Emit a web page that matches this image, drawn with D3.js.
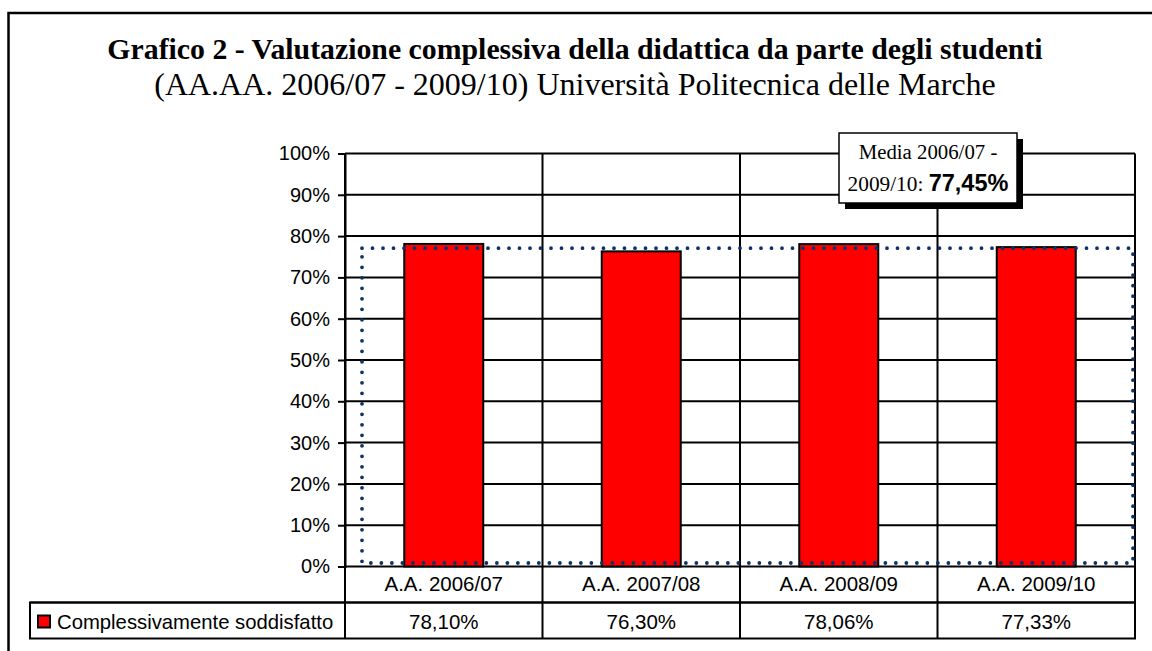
<!DOCTYPE html>
<html>
<head>
<meta charset="utf-8">
<script src="https://cdn.jsdelivr.net/npm/d3@7"></script>
<style>
  body { margin: 0; background: #fff; }
  svg { display: block; }
</style>
</head>
<body>
<svg id="chart" width="1152" height="651"></svg>
<script>
// dati
const categories = ["A.A. 2006/07", "A.A. 2007/08", "A.A. 2008/09", "A.A. 2009/10"];
const values = [0.7810, 0.7630, 0.7806, 0.7733];
const valueLabels = ["78,10%", "76,30%", "78,06%", "77,33%"];
const yTicks = [0, 0.1, 0.2, 0.3, 0.4, 0.5, 0.6, 0.7, 0.8, 0.9, 1];
const seriesName = "Complessivamente soddisfatto";
const media = 0.7745;
const mediaLabel = "77,45%";

const svg = d3.select("#chart");
const pLeft = 345, pRight = 1135, pTop = 153.5, pBottom = 566.5;
const rowH = 36;
const serif = "'Liberation Serif', 'Times New Roman', serif";
const tFont = "'Liberation Sans', Arial, sans-serif";

const x = d3.scaleBand().domain(categories).range([pLeft, pRight]);
const y = d3.scaleLinear().domain([0, 1]).range([pBottom, pTop]);

// cornice esterna
svg.append("rect")
   .attr("x", 8.5).attr("y", 13)
   .attr("width", 1200).attr("height", 700)
   .attr("fill", "none").attr("stroke", "#000").attr("stroke-width", 2.5);

// titolo
svg.append("text")
   .attr("x", 575).attr("y", 59)
   .attr("text-anchor", "middle")
   .style("font-family", serif)
   .style("font-weight", "bold").style("font-size", "29.8px")
   .text("Grafico 2 - Valutazione complessiva della didattica da parte degli studenti");
svg.append("text")
   .attr("x", 575).attr("y", 95)
   .attr("text-anchor", "middle")
   .style("font-family", serif)
   .style("font-size", "32px")
   .text("(AA.AA. 2006/07 - 2009/10) Università Politecnica delle Marche");

// griglia orizzontale
svg.append("g").selectAll("line")
   .data(yTicks)
   .enter().append("line")
   .attr("x1", pLeft).attr("x2", pRight)
   .attr("y1", d => y(d)).attr("y2", d => y(d))
   .attr("stroke", "#000").attr("stroke-width", 2);

// linee verticali tra le categorie (anche nella tabella)
const bounds = categories.map(c => x(c)).concat([pRight]);
svg.append("g").selectAll("line")
   .data(bounds)
   .enter().append("line")
   .attr("x1", d => d).attr("x2", d => d)
   .attr("y1", pTop).attr("y2", pBottom + 2 * rowH)
   .attr("stroke", "#000").attr("stroke-width", 2);

// asse y
const yAxis = d3.axisLeft(y).tickValues(yTicks)
   .tickFormat(d => Math.round(d * 100) + "%")
   .tickSize(7).tickPadding(8);
const ga = svg.append("g").attr("transform", `translate(${pLeft},0)`).call(yAxis);
ga.select(".domain").attr("stroke", "#000").attr("stroke-width", 2);
ga.selectAll(".tick line").attr("stroke", "#000").attr("stroke-width", 2);
ga.selectAll(".tick text")
   .attr("fill", "#000")
   .style("font-family", tFont)
   .style("font-size", "20px");

// barre
svg.append("g").selectAll("rect")
   .data(values)
   .enter().append("rect")
   .attr("x", (d, i) => x(categories[i]) + x.bandwidth() * 0.3)
   .attr("width", x.bandwidth() * 0.4)
   .attr("y", d => y(d))
   .attr("height", d => y(0) - y(d))
   .attr("fill", "#ff0000").attr("stroke", "#000").attr("stroke-width", 2);

// rettangolo tratteggiato della media
svg.append("rect")
   .attr("x", pLeft + 17).attr("y", y(media) + 1.5)
   .attr("width", pRight - 2 - (pLeft + 17))
   .attr("height", y(0) - 3.5 - (y(media) + 1.5))
   .attr("fill", "none").attr("stroke", "#0d3366")
   .attr("stroke-width", 3.8).attr("stroke-linecap", "round")
   .attr("stroke-dasharray", "0 10.5");

// tabella dati
svg.append("line")
   .attr("x1", 30).attr("x2", pRight)
   .attr("y1", pBottom + rowH).attr("y2", pBottom + rowH)
   .attr("stroke", "#000").attr("stroke-width", 2);
svg.append("rect")
   .attr("x", 30).attr("y", pBottom + rowH)
   .attr("width", pRight - 30).attr("height", rowH)
   .attr("fill", "none").attr("stroke", "#000").attr("stroke-width", 2);

svg.append("g").selectAll("text")
   .data(categories)
   .enter().append("text")
   .attr("x", d => x(d) + x.bandwidth() / 2)
   .attr("y", pBottom + 24.5)
   .attr("text-anchor", "middle")
   .style("font-family", tFont).style("font-size", "20.5px")
   .text(d => d);
svg.append("g").selectAll("text")
   .data(valueLabels)
   .enter().append("text")
   .attr("x", (d, i) => x(categories[i]) + x.bandwidth() / 2)
   .attr("y", pBottom + rowH + 26)
   .attr("text-anchor", "middle")
   .style("font-family", tFont).style("font-size", "20.5px")
   .text(d => d);

// legenda
svg.append("rect")
   .attr("x", 38).attr("y", pBottom + rowH + 13)
   .attr("width", 12).attr("height", 12)
   .attr("fill", "#ff0000").attr("stroke", "#000").attr("stroke-width", 2);
svg.append("text")
   .attr("x", 57).attr("y", pBottom + rowH + 26)
   .style("font-family", tFont).style("font-size", "20.3px")
   .text(seriesName);

// etichetta media
const box = svg.append("g");
box.append("rect")
   .attr("x", 845).attr("y", 139).attr("width", 178).attr("height", 70)
   .attr("fill", "#000");
box.append("rect")
   .attr("x", 839).attr("y", 133).attr("width", 178).attr("height", 70)
   .attr("fill", "#fff").attr("stroke", "#000").attr("stroke-width", 1.5);
box.append("text")
   .attr("x", 928).attr("y", 159)
   .attr("text-anchor", "middle")
   .style("font-family", serif)
   .style("font-size", "20.8px")
   .text("Media 2006/07 -");
const t2 = box.append("text")
   .attr("x", 928).attr("y", 191)
   .attr("text-anchor", "middle");
t2.append("tspan")
   .style("font-family", serif)
   .style("font-size", "21.3px")
   .text("2009/10: ");
t2.append("tspan")
   .style("font-family", tFont)
   .style("font-weight", "bold").style("font-size", "23.5px")
   .text(mediaLabel);
</script>
</body>
</html>
